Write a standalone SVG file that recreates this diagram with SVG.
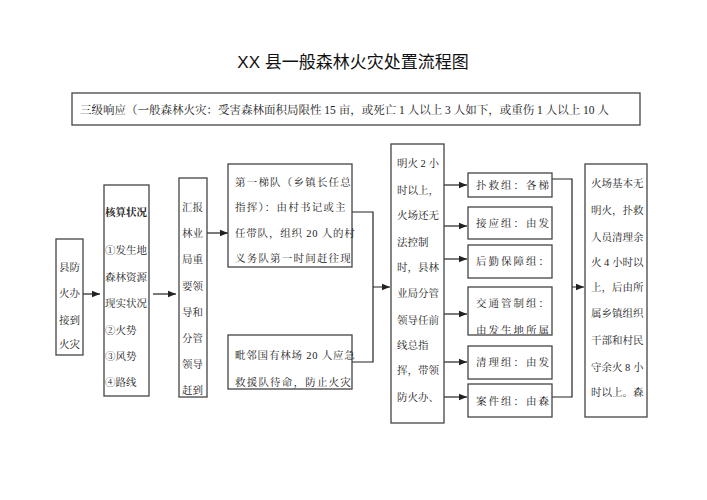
<svg xmlns="http://www.w3.org/2000/svg" width="707" height="500" viewBox="0 0 707 500">
<style>
rect{fill:#fff;stroke:#444;stroke-width:1.3}
.c{fill:none;stroke:#222;stroke-width:1.2}
text{font-family:"Liberation Serif","Noto Serif CJK SC","Noto Sans CJK SC",serif;font-size:10.5px;fill:#222}
.t{font-size:17px;font-family:"Liberation Sans","Noto Sans CJK SC",sans-serif;fill:#111}
.h{font-size:11.5px}
.g{letter-spacing:1.2px}
.k{letter-spacing:2px}
</style>
<defs>
<marker id="a" viewBox="0 0 10 10" refX="10" refY="5" markerWidth="7" markerHeight="7" orient="auto"><path d="M0,1L10,5L0,9z" fill="#222"/></marker>
<clipPath id="cp"><rect x="468" y="287" width="84" height="47"/></clipPath>
<clipPath id="hp"><rect x="72" y="93" width="568" height="32"/></clipPath>
</defs>
<text class="t" x="353" y="68" text-anchor="middle">XX 县一般森林火灾处置流程图</text>
<g id="header"><rect x="72" y="93" width="568" height="32"/><text class="h" x="80" y="114" clip-path="url(#hp)">三级响应（一般森林火灾：受害森林面积局限性 15 亩，或死亡 1 人以上 3 人如下，或重伤 1 人以上 10 人</text></g>
<g id="connectors">
<path class="c" d="M83,294H100" marker-end="url(#a)"/>
<path class="c" d="M153,294H176" marker-end="url(#a)"/>
<path class="c" d="M207,233H228" marker-end="url(#a)"/>
<path class="c" d="M352,212H373V362H352M373,287H390" marker-end="url(#a)"/>
<path class="c" d="M444,185H467" marker-end="url(#a)"/>
<path class="c" d="M444,226H467" marker-end="url(#a)"/>
<path class="c" d="M444,259H467" marker-end="url(#a)"/>
<path class="c" d="M444,314H467" marker-end="url(#a)"/>
<path class="c" d="M444,362H467" marker-end="url(#a)"/>
<path class="c" d="M444,397H467" marker-end="url(#a)"/>
<path class="c" d="M552,179H572V397H552M572,287H584" marker-end="url(#a)"/>
</g>
<g id="n1"><rect x="56" y="239" width="27" height="116"/><text x="59" y="271">县防</text><text x="59" y="297">火办</text><text x="59" y="324">接到</text><text x="59" y="348">火灾</text></g>
<g id="n2"><rect x="104" y="185" width="45" height="211"/><text x="105" y="216" font-weight="bold">核算状况</text><text x="105" y="254">①发生地</text><text x="105" y="281">森林资源</text><text x="105" y="307">现实状况</text><text x="105" y="334">②火势</text><text x="105" y="360">③风势</text><text x="105" y="386">④路线</text></g>
<g id="n3"><rect x="179" y="178" width="28" height="219"/><text x="182" y="211">汇报</text><text x="182" y="237">林业</text><text x="182" y="263">局重</text><text x="182" y="290">要领</text><text x="182" y="316">导和</text><text x="182" y="342">分管</text><text x="182" y="368">领导</text><text x="182" y="394">赶到</text></g>
<g id="n4"><rect x="228" y="164" width="124" height="103"/><text class="g" x="235" y="186">第一梯队（乡镇长任总</text><text class="g" x="235" y="211">指挥）：由村书记或主</text><text x="235" y="237" letter-spacing="0.8">任带队，组织 20 人的村</text><text class="g" x="235" y="262">义务队第一时间赶往现</text></g>
<g id="n5"><rect x="228" y="335" width="124" height="54"/><text x="235" y="359" letter-spacing="0.8">毗邻国有林场 20 人应急</text><text class="g" x="235" y="386">救援队待命，防止火灾</text></g>
<g id="n6"><rect x="391" y="144" width="53" height="279"/><text x="397" y="167">明火 2 小</text><text x="397" y="194">时以上，</text><text x="397" y="219">火场还无</text><text x="397" y="246">法控制</text><text x="397" y="271">时，县林</text><text x="397" y="297">业局分管</text><text x="397" y="324">领导任前</text><text x="397" y="349">线总指</text><text x="397" y="374">挥，带领</text><text x="397" y="401">防火办、</text></g>
<g id="n7"><rect x="468" y="173" width="84" height="24"/><text class="k" x="476" y="189">扑救组：各梯</text></g>
<g id="n8"><rect x="468" y="207" width="84" height="32"/><text class="k" x="476" y="227">接应组：由发</text></g>
<g id="n9"><rect x="468" y="245" width="84" height="33"/><text class="k" x="476" y="265">后勤保障组：</text></g>
<g id="n10"><rect x="468" y="287" width="84" height="48"/><g clip-path="url(#cp)"><text class="k" x="476" y="307">交通管制组：</text><text class="k" x="476" y="334">由发生地所属</text></g></g>
<g id="n11"><rect x="468" y="346" width="84" height="33"/><text class="k" x="476" y="366">清理组：由发</text></g>
<g id="n12"><rect x="468" y="384" width="84" height="33"/><text class="k" x="476" y="405">案件组：由森</text></g>
<g id="n13"><rect x="585" y="164" width="62" height="253"/><text x="591" y="187">火场基本无</text><text x="591" y="214">明火，扑救</text><text x="591" y="241">人员清理余</text><text x="591" y="266">火 4 小时以</text><text x="591" y="291">上，后由所</text><text x="591" y="317">属乡镇组织</text><text x="591" y="344">干部和村民</text><text x="591" y="371">守余火 8 小</text><text x="591" y="396">时以上。森</text></g>
</svg>
